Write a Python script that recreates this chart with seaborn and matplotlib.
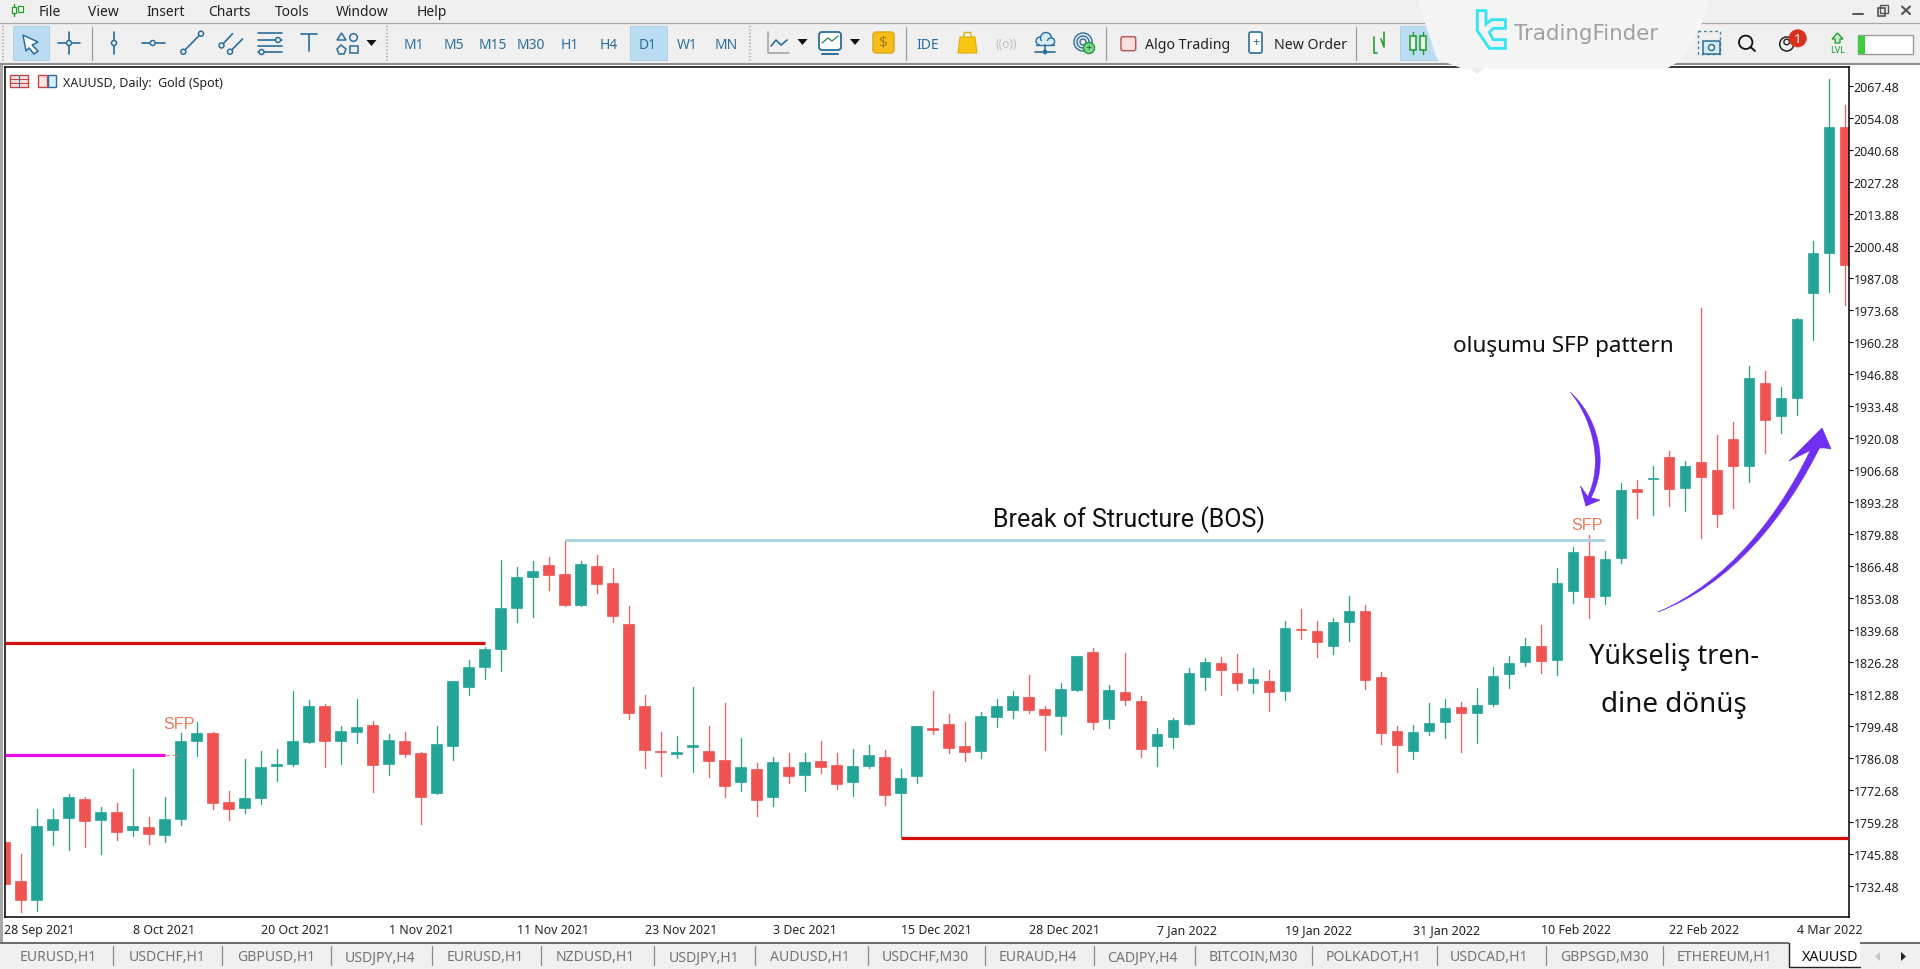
import numpy as np
import pandas as pd
import matplotlib
matplotlib.use('Agg')
import matplotlib.pyplot as plt
import seaborn as sns
from matplotlib.path import Path
from matplotlib.patches import PathPatch, Rectangle, Circle, Polygon, FancyBboxPatch

# candle data, one row per 10 bars
directions = ("RRGGGRGRGR" "GGGRRGGGGG" "RGGRGRRGGG" "GGGGRRGRRR" "RRGGRRGRGR"
              "GRRGGRGGRR" "RGGGRRGGRG" "RRGGGGRRGR" "GRRGGRRRGG" "GRGGGGRGGR"
              "GGRGRGRRRG" "RGGGGR")
highs = [1750.6, 1745.7, 1764.6, 1764.6, 1770.9, 1769.5, 1765.3, 1767.1, 1781.3, 1761.1,
         1769.5, 1796.3, 1800.9, 1796.7, 1772.0, 1785.5, 1788.7, 1789.6, 1813.9, 1810.1,
         1808.4, 1799.2, 1810.5, 1801.3, 1795.8, 1796.7, 1788.3, 1799.2, 1818.2, 1826.8,
         1832.6, 1868.7, 1866.1, 1868.6, 1870.2, 1876.7, 1868.3, 1871.1, 1865.6, 1849.4,
         1812.5, 1796.7, 1795.0, 1815.5, 1799.5, 1808.8, 1794.4, 1783.7, 1786.2, 1787.9,
         1787.9, 1793.2, 1787.9, 1789.6, 1791.5, 1789.4, 1781.2, 1799.5, 1814.1, 1804.2,
         1800.9, 1805.1, 1810.8, 1813.9, 1820.6, 1807.8, 1817.2, 1828.8, 1831.9, 1816.6,
         1829.8, 1811.8, 1798.6, 1802.5, 1823.5, 1828.0, 1828.4, 1829.3, 1823.5, 1822.9,
         1843.4, 1848.2, 1843.4, 1844.4, 1853.9, 1850.1, 1822.1, 1799.5, 1799.9, 1808.8,
         1810.8, 1809.2, 1815.1, 1823.9, 1828.8, 1836.0, 1841.8, 1865.5, 1874.4, 1879.5,
         1872.8, 1901.3, 1902.4, 1908.3, 1914.3, 1910.4, 1974.5, 1921.3, 1926.8, 1950.2,
         1948.1, 1941.4, 1970.2, 2002.4, 2070.4, 2059.5]
body_tops = [1750.6, 1734.3, 1757.3, 1760.4, 1769.5, 1768.6, 1763.2, 1763.2, 1757.3, 1756.9,
             1760.4, 1792.9, 1796.3, 1796.3, 1767.4, 1769.0, 1782.0, 1783.3, 1792.9, 1807.6,
             1807.6, 1797.1, 1798.8, 1799.6, 1793.3, 1792.9, 1787.9, 1791.7, 1818.0, 1824.2,
             1831.7, 1848.9, 1861.9, 1864.4, 1866.9, 1863.1, 1867.3, 1866.5, 1859.4, 1842.2,
             1807.8, 1789.0, 1788.6, 1791.2, 1789.0, 1785.2, 1782.0, 1781.5, 1784.1, 1782.0,
             1784.1, 1784.8, 1783.1, 1782.7, 1787.0, 1786.2, 1777.4, 1799.2, 1798.4, 1800.3,
             1790.8, 1803.7, 1807.8, 1812.0, 1811.6, 1806.6, 1815.0, 1828.5, 1830.5, 1814.5,
             1813.7, 1809.9, 1796.1, 1801.7, 1821.7, 1826.3, 1825.9, 1821.7, 1819.2, 1818.3,
             1840.5, 1840.1, 1839.3, 1843.0, 1847.6, 1847.6, 1820.0, 1797.4, 1797.0, 1800.7,
             1807.0, 1807.1, 1808.0, 1820.4, 1825.8, 1833.0, 1833.0, 1859.1, 1872.0, 1870.7,
             1869.1, 1898.2, 1898.7, 1903.4, 1912.0, 1908.3, 1909.9, 1906.7, 1919.7, 1945.0,
             1943.1, 1936.7, 1969.9, 1997.3, 2050.2, 2050.2]
body_bottoms = [1733.2, 1726.6, 1726.6, 1755.9, 1760.9, 1759.7, 1760.1, 1755.1, 1755.9, 1754.2,
                1753.8, 1760.5, 1793.2, 1767.2, 1764.7, 1765.1, 1769.3, 1782.7, 1783.3, 1792.8,
                1793.2, 1793.2, 1797.0, 1783.1, 1783.6, 1787.7, 1769.7, 1771.4, 1791.1, 1815.8,
                1824.2, 1831.6, 1848.9, 1861.9, 1862.6, 1850.0, 1850.0, 1858.8, 1845.5, 1804.9,
                1789.4, 1788.4, 1787.7, 1790.7, 1784.8, 1774.3, 1776.0, 1768.5, 1769.7, 1778.5,
                1779.0, 1782.3, 1775.2, 1776.0, 1782.7, 1770.6, 1771.4, 1778.5, 1797.8, 1790.3,
                1788.6, 1789.0, 1803.2, 1806.2, 1806.0, 1804.1, 1803.7, 1814.4, 1801.1, 1802.4,
                1810.4, 1789.8, 1791.1, 1794.9, 1800.2, 1820.0, 1822.8, 1817.5, 1817.5, 1813.7,
                1814.1, 1839.5, 1834.5, 1833.0, 1842.9, 1818.7, 1796.5, 1791.5, 1789.0, 1797.4,
                1801.1, 1804.9, 1804.9, 1808.5, 1821.2, 1826.0, 1826.7, 1827.0, 1855.9, 1853.5,
                1853.9, 1869.7, 1897.3, 1902.6, 1898.6, 1898.9, 1903.5, 1888.0, 1908.2, 1908.3,
                1927.4, 1929.2, 1936.7, 1980.6, 1997.3, 1992.2]
lows = [1733.2, 1721.6, 1722.0, 1749.6, 1747.5, 1748.8, 1745.9, 1751.7, 1753.4, 1750.1,
        1750.9, 1758.0, 1786.9, 1764.7, 1760.1, 1763.0, 1766.8, 1776.4, 1782.7, 1792.4,
        1782.3, 1783.4, 1792.4, 1771.7, 1779.0, 1786.2, 1758.4, 1771.0, 1785.2, 1812.5,
        1819.2, 1822.5, 1843.0, 1845.1, 1856.4, 1849.7, 1849.7, 1855.2, 1843.0, 1802.4,
        1781.9, 1778.5, 1786.1, 1780.2, 1778.1, 1769.7, 1772.2, 1761.8, 1766.0, 1775.6,
        1772.2, 1779.8, 1773.1, 1770.2, 1781.9, 1766.4, 1752.7, 1775.6, 1796.0, 1788.2,
        1784.8, 1786.1, 1799.1, 1802.8, 1804.9, 1789.4, 1796.1, 1814.1, 1798.2, 1798.6,
        1808.3, 1786.5, 1782.7, 1790.3, 1799.9, 1814.5, 1812.5, 1814.5, 1813.3, 1805.8,
        1810.2, 1835.8, 1828.4, 1829.5, 1834.9, 1814.8, 1791.8, 1780.2, 1785.7, 1795.6,
        1794.4, 1788.6, 1792.3, 1807.8, 1815.2, 1824.6, 1821.5, 1820.7, 1850.8, 1844.7,
        1850.5, 1867.6, 1886.4, 1887.7, 1891.5, 1889.4, 1878.1, 1882.7, 1890.6, 1901.5,
        1913.6, 1922.0, 1929.5, 1960.9, 1980.9, 1975.8]

# price levels on the chart
red_level_top = 1834.2
magenta_level = 1787.3
bos_level = 1877.2
red_level_bottom = 1752.6

y_ticks = [2067.48, 2054.08, 2040.68, 2027.28, 2013.88, 2000.48, 1987.08, 1973.68, 1960.28,
           1946.88, 1933.48, 1920.08, 1906.68, 1893.28, 1879.88, 1866.48, 1853.08, 1839.68,
           1826.28, 1812.88, 1799.48, 1786.08, 1772.68, 1759.28, 1745.88, 1732.48]
x_ticks = [0, 8, 16, 24, 32, 40, 48, 56, 64, 72, 80, 88, 96, 104, 112]
x_labels = ['28 Sep 2021', '8 Oct 2021', '20 Oct 2021', '1 Nov 2021', '11 Nov 2021',
            '23 Nov 2021', '3 Dec 2021', '15 Dec 2021', '28 Dec 2021', '7 Jan 2022',
            '19 Jan 2022', '31 Jan 2022', '10 Feb 2022', '22 Feb 2022', '4 Mar 2022']

menu_items = [('File', 39), ('View', 88), ('Insert', 146), ('Charts', 208), ('Tools', 275),
              ('Window', 336), ('Help', 417)]
timeframes = [('M1', 414), ('M5', 453.5), ('M15', 492.5), ('M30', 531), ('H1', 570),
              ('H4', 609), ('D1', 648), ('W1', 687), ('MN', 726.5)]
tabs = ['EURUSD,H1', 'USDCHF,H1', 'GBPUSD,H1', 'USDJPY,H4', 'EURUSD,H1', 'NZDUSD,H1',
        'USDJPY,H1', 'AUDUSD,H1', 'USDCHF,M30', 'EURAUD,H4', 'CADJPY,H4', 'BITCOIN,M30',
        'POLKADOT,H1', 'USDCAD,H1', 'GBPSGD,M30', 'ETHEREUM,H1']
tab_x = [19.5, 128.5, 237.5, 345, 447, 556, 668.5, 770, 882, 999, 1107, 1209, 1326, 1450, 1560, 1676.5]
tab_seps = [113, 221.5, 330.5, 432, 541, 654, 755, 867.5, 984.5, 1093.5, 1194.5, 1311.5, 1436.5, 1545.5, 1662.5]

GREEN = '#22a596'
RED = '#ef5350'
GREEN_WICK = '#3d9f93'
RED_WICK = '#dd6a66'
ICON = '#2b6d9c'
PURPLE = '#6f2ff0'
CHROME = '#f0f0f0'

sns.set_theme(style='white')
plt.rcParams['font.family'] = ['Noto Sans', 'DejaVu Sans']

df = pd.DataFrame({'bar': np.arange(len(highs)), 'dir': list(directions), 'high': highs,
                   'top': body_tops, 'bottom': body_bottoms, 'low': lows})
df['height'] = df['top'] - df['bottom']
wicks = df.melt(id_vars=['bar', 'dir'], value_vars=['high', 'low'], value_name='price')

W, H = 1920, 970
fig = plt.figure(figsize=(W / 100, H / 100), dpi=100, facecolor='white')
left, right, top, bottom = 4.5, 1848.7, 68.4, 918.3
ax = fig.add_axes([left / W, 1 - bottom / H, (right - left) / W, (bottom - top) / H])

for code, col, wcol in [('G', GREEN, GREEN_WICK), ('R', RED, RED_WICK)]:
    part = df[df['dir'] == code]
    sns.lineplot(data=wicks[wicks['dir'] == code], x='bar', y='price', units='bar', estimator=None,
                 color=wcol, linewidth=1.0, zorder=0.5, legend=False, ax=ax)
    sns.barplot(data=part, x='bar', y='height', bottom=part['bottom'].to_numpy(), native_scale=True,
                width=0.64, color=col, saturation=1, edgecolor=col, linewidth=0.5,
                errorbar=None, ax=ax)

ax.hlines(red_level_top, 0, 30, color='#d80f0f', linewidth=2.3, zorder=3)
ax.hlines(magenta_level, 0, 10, color='#e80ce8', linewidth=2.3, zorder=3)
ax.hlines(magenta_level, 10, 11, color='#d98a6a', linewidth=0.8, linestyle=(0, (4, 3)), zorder=3)
ax.hlines(bos_level, 35, 100, color='#a9d3e0', linewidth=2.0, zorder=3)
ax.hlines(red_level_bottom, 56, 115.25, color='#d40b0b', linewidth=2.3, zorder=3)

ax.set_xlim(0, 115.25)
ax.set_ylim(1719.23, 2075.14)
ax.set_xlabel('')
ax.set_ylabel('')
ax.set_xticks(x_ticks)
ax.set_xticklabels(x_labels, ha='left', fontsize=8.9, color='#222222')
ax.yaxis.tick_right()
ax.set_yticks(y_ticks)
ax.set_yticklabels([f'{v:.2f}' for v in y_ticks], fontsize=8.9, color='#222222')
ax.tick_params(axis='x', length=3, width=0.8, pad=1.2, color='black')
ax.tick_params(axis='y', length=3.2, width=0.8, pad=0.5, color='black')
for s in ax.spines.values():
    s.set_visible(True)
    s.set_color('black')
    s.set_linewidth(1.1)

# window chrome goes in an overlay axes measured in pixels
ui = fig.add_axes([0, 0, 1, 1], facecolor='none')
ui.set_xlim(0, W)
ui.set_ylim(H, 0)
ui.axis('off')


def box(x0, y0, x1, y1, fc, ec='none', lw=0, z=2):
    ui.add_patch(Rectangle((x0, y0), x1 - x0, y1 - y0, facecolor=fc, edgecolor=ec, linewidth=lw, zorder=z))


def line(xs, ys, c=ICON, lw=1.2, z=3, **kw):
    ui.plot(xs, ys, color=c, linewidth=lw, zorder=z, solid_capstyle='round', **kw)


def ring(x, y, r=2.5, ec=ICON, fc=CHROME, lw=1.1, z=4):
    ui.add_patch(Circle((x, y), r, facecolor=fc, edgecolor=ec, linewidth=lw, zorder=z))


def label(x, y, s, size=10, c='#222222', ha='left', z=5, **kw):
    ui.text(x, y, s, fontsize=size, color=c, ha=ha, va='center', zorder=z, **kw)


def tri_down(x, y, c='#111111'):
    ui.add_patch(Polygon([(x - 5, y - 3), (x + 5, y - 3), (x, y + 3)], facecolor=c, edgecolor='none', zorder=4))


# top bars
box(0, 0, W, 65, CHROME)
line([0, W], [24, 24], c='#a8a8a8', lw=0.9)
line([0, W], [65, 65], c='#8f8f8f', lw=1.5)
box(0, 65, 2.5, 943, '#a9a9a9')
for txt, x in menu_items:
    label(x, 12, txt, size=10)
ui.plot([14, 14], [5, 17], color='#20a020', lw=1)
box(11.5, 8, 16, 14, 'white', '#20a020', 0.9)
box(18, 7, 22.5, 13, 'white', '#20a020', 0.9)

# drawing tools
box(12.7, 27, 49, 60.7, '#bcdcf4', '#a8cfe8', 0.6)
ui.add_patch(Polygon([(23, 36), (38, 43), (32, 46), (38, 52), (34, 55), (29, 49), (26, 52)],
                     facecolor='white', edgecolor=ICON, linewidth=1.1, zorder=4))
line([58, 80], [44, 44])
line([69, 69], [33, 55])
ring(69, 44)
line([91.7, 91.7], [28, 61], c='#9a9a9a', lw=0.9)
line([114, 114], [32.5, 55])
ring(114, 44)
line([141.5, 164.5], [44, 44])
ring(152.7, 44)
line([183.3, 201], [52.7, 34.7])
ring(183.3, 52.7)
ring(201, 34.7)
line([221.5, 232.5], [46.5, 34.7])
line([230, 242.5], [52.7, 40])
ring(221.5, 46.5)
ring(230, 52.7)
for yy in [34, 41, 47, 53]:
    line([258, 282], [yy, yy])
ring(278, 41)
ring(261.5, 53)
line([300.5, 317], [35, 35])
line([309, 309], [35, 52])
ui.add_patch(Polygon([(337, 41), (346, 41), (341.5, 34)], fc='none', ec=ICON, lw=1.1, zorder=4))
ring(353.5, 38.5, 3.8)
ui.add_patch(Polygon([(337, 50), (341, 46), (346, 50), (344, 55), (339, 55)], fc='none', ec=ICON, lw=1.1, zorder=4))
box(350, 47, 357.5, 54, 'none', ICON, 1.1, z=4)
tri_down(371.5, 44)
for xx in [3, 386.5, 750]:
    ui.plot([xx, xx], [27, 62], color='#b8b8b8', lw=1.6, linestyle=(0, (0.6, 0.9)), zorder=3)

# timeframe buttons
box(630, 27, 666.5, 60.7, '#bcdcf4', '#a8cfe8', 0.6)
for txt, x in timeframes:
    label(x, 45.5, txt, size=10, c=ICON, ha='center')

# chart type and market icons
line([768, 768, 789], [33, 54, 54], c='#a5a5a5')
line([771, 776, 781, 787], [47, 41, 46, 41])
tri_down(802.5, 43)
ui.add_patch(FancyBboxPatch((819, 33), 22, 18, boxstyle='round,pad=0,rounding_size=3', fc='white', ec=ICON, lw=1.3, zorder=3))
line([822, 828, 832, 838], [44, 39, 42, 37], c='#3b8a66', lw=1)
line([822, 838], [54.5, 54.5], lw=1.4)
tri_down(855, 43)
ui.add_patch(FancyBboxPatch((873, 33), 21, 21, boxstyle='round,pad=0,rounding_size=3', fc='#f6bd1b', ec='#dba50f', lw=1, zorder=3))
label(883.5, 44, '$', size=11, c='#a97f0c', ha='center')
line([905.7, 905.7], [28, 61], c='#9a9a9a', lw=0.9)
label(927.7, 45.5, 'IDE', size=10, c=ICON, ha='center')
ui.add_patch(Polygon([(960, 38), (975, 38), (977, 54), (958, 54)], fc='#f9c513', ec='#e0ad0c', lw=0.8, zorder=3))
line([963.5, 964.5, 970.5, 971.5], [38, 33.5, 33.5, 38], c='#e0ad0c', lw=1)
label(1006, 45, '((o))', size=8.5, c='#bdbdbd', ha='center')
# cloud
for cx, cy, r in [(1040, 42, 4), (1046, 39, 5.5), (1051, 42.5, 3.6)]:
    ui.add_patch(Circle((cx, cy), r, fc='#d8ecf8', ec=ICON, lw=1.0, zorder=3))
box(1040, 42, 1051, 46, '#d8ecf8', z=3)
line([1036, 1054], [46, 46], lw=1.0)
line([1035, 1055], [53, 53])
line([1045, 1045], [46, 53])
ring(1045, 53, 1.6, fc=ICON)
for r in [9, 6, 3]:
    ui.add_patch(Circle((1083, 43), r, fc='none', ec=ICON, lw=1, zorder=3))
ui.add_patch(Circle((1089, 49), 5.5, fc='#7fd68a', ec='#1f9a3a', lw=1, zorder=4))
label(1089, 49, '+', size=8, c='#0f6a25', ha='center')
line([1106, 1106], [28, 61], c='#9a9a9a', lw=0.9)
ui.add_patch(FancyBboxPatch((1121, 37.7), 14.7, 14, boxstyle='round,pad=0,rounding_size=2', fc='#f9e0e0', ec='#b85a5a', lw=1.1, zorder=3))
label(1145, 45.5, 'Algo Trading', size=10.2)
ui.add_patch(FancyBboxPatch((1249, 33), 13, 21, boxstyle='round,pad=0,rounding_size=2', fc='white', ec=ICON, lw=1.2, zorder=3))
label(1255.5, 42.5, '+', size=9, c=ICON, ha='center')
label(1274, 45.5, 'New Order', size=10.2)
line([1356, 1356], [28, 61], c='#9a9a9a', lw=0.9)
line([1374, 1374, 1377], [38, 54, 54], c='#25a030')
line([1384, 1384, 1381], [33, 48, 40], c='#25a030')
box(1400, 27, 1437, 60.7, '#bcdcf4', '#a8cfe8', 0.6)
for xx in [1413, 1423]:
    line([xx, xx], [33, 55], c='#1c9c2c', lw=1)
    box(xx - 2.7, 37, xx + 2.7, 51, '#e4f3e4', '#1c9c2c', 1.1, z=4)

# watermark patch
ui.add_patch(Polygon([(1417, 0), (1710, 0), (1702, 24), (1683, 60), (1667, 69.5), (1462, 69.5), (1437, 60)],
                     facecolor='#f5f5f5', edgecolor='none', zorder=6))
ui.add_patch(Polygon([(1470, 69), (1484, 69), (1477, 75)], facecolor='#ececec', edgecolor='none', zorder=6))
logo_x = [232, 258, 258, 275, 316, 316, 280, 268, 280, 316, 316, 268, 232, 232]
logo_y = [35, 35, 75, 62, 62, 88, 88, 100, 122, 122, 148, 148, 95, 35]
ui.plot([1400 + v / 3 for v in logo_x], [v / 3 for v in logo_y], color='#35e6f2', lw=2.1, zorder=7, solid_joinstyle='miter')
label(1514, 34, 'TradingFinder', size=15.4, c='#a0a0a0', z=7, family='DejaVu Sans')

# right hand icons
box(1698, 32, 1720, 55, 'none', '#4a7fa5', 1, z=3)
ui.patches[-1].set_linestyle((0, (2, 2)))
box(1703, 42, 1720, 55, '#d8ecf8', ICON, 1.1, z=4)
ring(1711.5, 48.5, 3, fc='white')
ring(1745.7, 43.3, 6.7, ec='#111111', fc='none', lw=1.3)
line([1750.5, 1755], [48, 52], c='#111111', lw=1.4)
ring(1786.7, 45, 7, ec='#222222', fc='none', lw=1.1)
ring(1786.7, 43, 2.8, ec='#222222', fc='none', lw=1)
ui.add_patch(Circle((1797.7, 39.3), 9, fc='#d9301e', ec='none', zorder=5))
label(1797.7, 39.5, '1', size=9.5, c='white', ha='center', z=6, fontweight='bold')
ui.add_patch(Polygon([(1837.5, 34), (1843, 40), (1840, 40), (1840, 44), (1835, 44), (1835, 40), (1832, 40)],
                     fc='#c8eccb', ec='#1a9a2a', lw=0.9, zorder=4))
label(1837.7, 50.5, 'LVL', size=6.5, c='#1a9a2a', ha='center')
box(1857.5, 36, 1912.5, 55, 'white', '#9a9a9a', 1, z=3)
box(1858, 36.5, 1865, 54.5, '#3ccc3c', z=4)
line([1853, 1863], [14.5, 14.5], c='#555555', lw=1.4)
box(1877.5, 9, 1885, 17, 'none', '#555555', 1.2, z=3)
box(1880, 6, 1888, 14, 'none', '#555555', 1.0, z=3)
line([1902, 1910], [7.5, 15], c='#555555', lw=1.5)
line([1902, 1910], [15, 7.5], c='#555555', lw=1.5)

# chart header
ui.add_patch(Rectangle((10, 76), 18, 12, fc='#f8e4e4', ec='#c9453f', lw=1, zorder=3))
for yy in [80, 84]:
    line([10, 28], [yy, yy], c='#c9453f', lw=0.8)
line([19, 19], [76, 88], c='#3a6ea5', lw=0.8)
ui.add_patch(Rectangle((37.5, 76), 9, 12, fc='#f8e4e4', ec='#c9453f', lw=1, zorder=3))
ui.add_patch(Rectangle((48, 76), 7.5, 12, fc='#dcecf8', ec=ICON, lw=1, zorder=3))
label(63, 83.5, 'XAUUSD, Daily:  Gold (Spot)', size=9, c='#222222')

# bottom tab strip
box(0, 943, W, H, CHROME)
line([0, W], [943.5, 943.5], c='#555555', lw=1.2)
for txt, x in zip(tabs, tab_x):
    label(x, 958, txt, size=10.1, c='#757575')
for x in tab_seps:
    line([x, x], [947, 966], c='#8a8a8a', lw=0.9)
box(1788.5, 943, 1860, 968, 'white', z=3)
line([1788.5, 1788.5, 1860], [944, 968, 968], c='#222222', lw=1.0, z=4)
label(1802, 957.5, 'XAUUSD', size=10.3, c='#111111')
ui.add_patch(Polygon([(1880, 953), (1880, 962), (1875, 957.5)], fc='#c6c6c6', ec='none', zorder=4))
ui.add_patch(Polygon([(1901, 953), (1901, 962), (1906, 957.5)], fc='#222222', ec='none', zorder=4))

# annotations on the chart
label(1129, 520, 'Break of Structure (BOS)', size=18, c='#111111', ha='center', family='Roboto')
label(1563.5, 347, 'oluşumu SFP pattern', size=16.2, c='#111111', ha='center', family='Noto Sans')
label(1674, 657.5, 'Yükseliş tren-', size=19.5, c='#111111', ha='center', family='Noto Sans')
label(1673.5, 705.5, 'dine dönüş', size=20, c='#111111', ha='center', family='Noto Sans')
label(179.5, 725, 'SFP', size=11.6, c='#e8795a', ha='center', family='Liberation Sans')
label(1587.5, 526, 'SFP', size=11.6, c='#e8795a', ha='center', family='Liberation Sans')


def swoosh(pts):
    codes = [Path.MOVETO, Path.CURVE4, Path.CURVE4, Path.CURVE4, Path.LINETO, Path.CURVE4, Path.CURVE4, Path.CURVE4, Path.CLOSEPOLY]
    ui.add_patch(PathPatch(Path(pts + [pts[0]], codes), facecolor=PURPLE, edgecolor=PURPLE, linewidth=0.3, zorder=6))


# arrow into the SFP candle
swoosh([(1570, 393), (1596, 415), (1613, 465), (1588, 504), (1585.5, 502), (1606, 465), (1591, 418), (1570, 393)])
ui.add_patch(Polygon([(1586, 507), (1580.5, 487), (1588, 498), (1600, 501)], fc=PURPLE, ec=PURPLE, lw=0.5, zorder=6))
# trend arrow
swoosh([(1658, 613), (1730, 586), (1785, 521), (1824, 440), (1817, 437), (1781, 517), (1727, 583), (1658, 613)])
ui.add_patch(Polygon([(1822, 429), (1789, 462), (1815, 449), (1825, 449), (1831, 450)], fc=PURPLE, ec=PURPLE, lw=0.5, zorder=6))

fig.savefig('out.png', dpi=100)
